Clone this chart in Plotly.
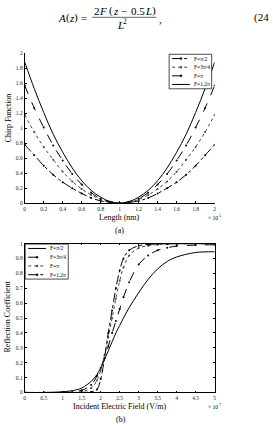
import plotly.graph_objects as go

W, H = 273, 429

# ---- data: top chart (chirp function vs length, x10^5 nm) ----
z = [0.0, 0.1, 0.2, 0.3, 0.4, 0.5, 0.6, 0.7, 0.8, 0.9, 1.0,
     1.1, 1.2, 1.3, 1.4, 1.5, 1.6, 1.7, 1.8, 1.9, 2.0]
chirp_pi2 = [0.78, 0.64, 0.50, 0.38, 0.28, 0.20, 0.13, 0.07, 0.03, 0.01, 0.00,
             0.01, 0.03, 0.07, 0.13, 0.20, 0.28, 0.38, 0.50, 0.64, 0.78]
chirp_3pi4 = [1.18, 0.95, 0.75, 0.58, 0.42, 0.29, 0.19, 0.11, 0.05, 0.01, 0.00,
              0.01, 0.05, 0.11, 0.19, 0.29, 0.42, 0.58, 0.75, 0.95, 1.18]
chirp_pi = [1.57, 1.27, 1.01, 0.77, 0.57, 0.39, 0.25, 0.14, 0.06, 0.02, 0.00,
            0.02, 0.06, 0.14, 0.25, 0.39, 0.57, 0.77, 1.01, 1.27, 1.57]
chirp_12pi = [1.88, 1.53, 1.21, 0.92, 0.68, 0.47, 0.30, 0.17, 0.08, 0.02, 0.00,
              0.02, 0.08, 0.17, 0.30, 0.47, 0.68, 0.92, 1.21, 1.53, 1.88]

# ---- data: bottom chart (reflection coefficient vs field, x10^7 V/m) ----
E = [0.0, 0.5, 1.0, 1.25, 1.5, 1.75, 1.9, 2.0, 2.1, 2.2, 2.3, 2.4, 2.5, 2.6,
     2.75, 3.0, 3.25, 3.5, 3.75, 4.0, 4.5, 5.0]
refl_pi2 = [0, 0, 0.005, 0.012, 0.03, 0.075, 0.12, 0.165, 0.22, 0.28, 0.34, 0.40,
            0.45, 0.50, 0.57, 0.67, 0.76, 0.83, 0.88, 0.91, 0.94, 0.945]
refl_3pi4 = [0, 0, 0, 0.003, 0.015, 0.05, 0.11, 0.165, 0.23, 0.31, 0.40, 0.48,
             0.56, 0.64, 0.74, 0.86, 0.92, 0.955, 0.972, 0.983, 0.99, 0.992]
refl_pi = [0, 0, 0, 0, 0.005, 0.03, 0.08, 0.15, 0.25, 0.37, 0.50, 0.63,
           0.75, 0.84, 0.92, 0.97, 0.985, 0.993, 0.996, 0.998, 0.999, 0.999]
refl_12pi = [0, 0, 0, 0, 0, 0.005, 0.02, 0.09, 0.23, 0.40, 0.55, 0.70,
             0.82, 0.90, 0.955, 0.985, 0.994, 0.997, 0.998, 0.999, 0.999, 0.999]

labels = ["F=π/2", "F=3π/4", "F=π", "F=1.2π"]
tick_top = [0, 0.2, 0.4, 0.6, 0.8, 1, 1.2, 1.4, 1.6, 1.8, 2]
tick_bx = [0, 0.5, 1, 1.5, 2, 2.5, 3, 3.5, 4, 4.5, 5]
tick_by = [0, 0.1, 0.2, 0.3, 0.4, 0.5, 0.6, 0.7, 0.8, 0.9, 1]

SERIF = "Liberation Serif"

def px_x(p):
    return p / W

def px_y(p):
    return 1 - p / H

fig = go.Figure()

top_styles = [("dashdot", "black", True), ("dot", "#444444", True),
              ("dash", "black", True), ("solid", "black", False)]
for lab, ys, (dash, col, mk) in zip(labels, [chirp_pi2, chirp_3pi4, chirp_pi, chirp_12pi], top_styles):
    fig.add_trace(go.Scatter(
        x=z, y=ys, name=lab, xaxis="x", yaxis="y", showlegend=False,
        mode="lines+markers" if mk else "lines", line_shape="spline",
        line=dict(color=col, width=1, dash=dash),
        marker=dict(size=2, color=col)))

bot_styles = [("solid", "black", False), ("dash", "black", True),
              ("dot", "#444444", True), ("dashdot", "black", True)]
for lab, ys, (dash, col, mk) in zip(labels, [refl_pi2, refl_3pi4, refl_pi, refl_12pi], bot_styles):
    fig.add_trace(go.Scatter(
        x=E, y=ys, name=lab, xaxis="x2", yaxis="y2", showlegend=False,
        mode="lines+markers" if mk else "lines", line_shape="spline",
        line=dict(color=col, width=1, dash=dash),
        marker=dict(size=2, color=col)))

axis_common = dict(showgrid=False, zeroline=False, showline=True, linecolor="black",
                   linewidth=0.8, ticks="inside", ticklen=2, tickwidth=0.6,
                   tickcolor="black", tickfont=dict(family=SERIF, size=5.5, color="#222"))

xdom = [px_x(24), px_x(216)]
fig.update_layout(
    width=W, height=H, margin=dict(l=0, r=0, t=0, b=0),
    paper_bgcolor="white", plot_bgcolor="white", showlegend=False,
    font=dict(family=SERIF, color="black"),
    xaxis=dict(domain=xdom, range=[0, 2], tickvals=tick_top,
               ticktext=[f"{v:g}" for v in tick_top], anchor="y", **axis_common),
    yaxis=dict(domain=[px_y(203), px_y(51)], range=[0, 2], tickvals=tick_top,
               ticktext=[f"{v:g}" for v in tick_top], anchor="x", **axis_common),
    xaxis2=dict(domain=xdom, range=[0, 5], tickvals=tick_bx,
                ticktext=[f"{v:g}" for v in tick_bx], anchor="y2", mirror="ticks", **axis_common),
    yaxis2=dict(domain=[px_y(395), px_y(244)], range=[0, 1], tickvals=tick_by,
                ticktext=[f"{v:g}" for v in tick_by], anchor="x2", mirror="ticks", **axis_common),
)

def ann(text, x, y, size=8, angle=0, xanchor="center", italic=False):
    fig.add_annotation(text=text, x=px_x(x), y=px_y(y), xref="paper", yref="paper",
                       showarrow=False, textangle=angle, xanchor=xanchor, yanchor="middle",
                       font=dict(family=SERIF, size=size, color="black",
                                 style="italic" if italic else "normal"))

def hline(x0, x1, y, dash="solid", color="black", width=0.8):
    fig.add_shape(type="line", xref="paper", yref="paper",
                  x0=px_x(x0), x1=px_x(x1), y0=px_y(y), y1=px_y(y),
                  line=dict(color=color, width=width, dash=dash))

def dot(x, y, color="black"):
    fig.add_shape(type="circle", xref="paper", yref="paper",
                  x0=px_x(x - 1), x1=px_x(x + 1), y0=px_y(y + 1), y1=px_y(y - 1),
                  line=dict(color=color, width=0.5), fillcolor=color)

def legend_box(x0, y0, x1, y1, styles):
    fig.add_shape(type="rect", xref="paper", yref="paper",
                  x0=px_x(x0), x1=px_x(x1), y0=px_y(y1), y1=px_y(y0),
                  line=dict(color="black", width=0.7), fillcolor="white")
    n = len(labels)
    step = (y1 - y0) / n
    for i, (lab, (dash, col, mk)) in enumerate(zip(labels, styles)):
        yy = y0 + step * (i + 0.5)
        hline(x0 + 3, x0 + 21, yy, dash=dash, color=col, width=1)
        if mk:
            dot(x0 + 12, yy, col)
        ann(lab, x0 + 23, yy, size=5.5, xanchor="left")

legend_box(170, 52, 213, 87, top_styles)
legend_box(24.5, 244.5, 68, 280, bot_styles)

# formula  A(z) = 2F (z - 0.5L) / L^2 ,  (24
FS = 11
formula_pieces = [
    ("A", 55.5, 15, True), ("(", 63.5, 15, False), ("z", 67, 15, True), (")", 71.5, 15, False),
    ("=", 79, 15, False),
    ("2", 92, 8, False), ("F", 97.5, 8, True), ("(", 107.5, 8, False), ("z", 111.2, 8, True),
    ("−", 119, 8, False), ("0.5", 129, 8, False), ("L", 143.5, 8, True), (")", 150.5, 8, False),
    ("L", 115, 22, True), (",", 158, 16, False),
]
for txt, x, y, it in formula_pieces:
    ann(txt, x, y, size=FS, xanchor="left", italic=it)
ann("2", 121.5, 18.5, size=7.5, xanchor="left")
ann("(24", 273, 15, size=FS, xanchor="right")
hline(92, 157, 14.5, width=0.6)

# top chart labels
ann("Length (nm)", 120, 218)
ann("× 10", 207, 218, size=5.5, xanchor="left")
ann("5", 218.5, 215.5, size=4, xanchor="left")
ann("(a)", 120, 231)
ann("Chirp Function", 7, 116, angle=-90)

# bottom chart labels
ann("Incident Electric Field (V/m)", 120, 409)
ann("× 10", 207, 410, size=5.5, xanchor="left")
ann("7", 218.5, 407.5, size=4, xanchor="left")
ann("(b)", 121, 422)
ann("Reflection Coefficient", 7, 318, angle=-90)

fig.write_html("out.html")
